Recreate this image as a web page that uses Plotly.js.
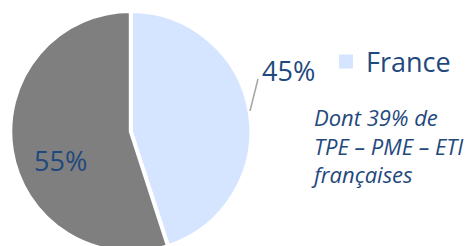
<!DOCTYPE html>
<html>
<head>
<meta charset="utf-8">
<script src="https://cdn.plot.ly/plotly-3.0.1.min.js"></script>
<style>
html,body{margin:0;padding:0;overflow:hidden;background:#fff;width:472px;height:246px;}
#chart{width:472px;height:252px;}
</style>
</head>
<body>
<div id="chart"></div>
<script>
// Data
const sliceLabels = ['France', 'Autres'];
const sliceValues = [45, 55];
const sliceColors = ['#D5E5FF', '#7F7F7F'];
const legendName = 'France';
const noteLines = ['Dont 39% de', 'TPE – PME – ETI', 'françaises'];

const W = 472, H = 252;
const px = x => x / W;
const py = y => 1 - y / H;
const textBlue = '#1F497D';
const fontFam = '"Open Sans", "Noto Sans", sans-serif';

const pie = {
  type: 'pie',
  labels: sliceLabels,
  values: sliceValues,
  sort: false,
  direction: 'clockwise',
  rotation: 0,
  showlegend: false,
  marker: {colors: sliceColors, line: {color: '#ffffff', width: 4}},
  textinfo: 'none',
  hoverinfo: 'label+percent',
  domain: {x: [px(10.3), px(251.3)], y: [0, py(11)]}
};

const legendTrace = {
  type: 'scatter',
  mode: 'markers',
  x: [null], y: [null],
  name: legendName,
  marker: {symbol: 'square', size: 14, color: sliceColors[0]},
  showlegend: true,
  hoverinfo: 'skip'
};

const layout = {
  width: W, height: H,
  margin: {l: 0, r: 0, t: 0, b: 0},
  paper_bgcolor: '#ffffff',
  plot_bgcolor: '#ffffff',
  xaxis: {visible: false},
  yaxis: {visible: false},
  showlegend: true,
  legend: {
    x: px(326), y: py(62), xanchor: 'left', yanchor: 'middle',
    font: {family: fontFam, size: 27, color: textBlue},
    bgcolor: 'rgba(0,0,0,0)', borderwidth: 0
  },
  shapes: [{
    type: 'line', xref: 'paper', yref: 'paper',
    x0: px(250), y0: py(111), x1: px(258), y1: py(79),
    line: {color: '#A6A6A6', width: 1.5}
  }],
  annotations: [
    {
      xref: 'paper', yref: 'paper',
      x: px(288), y: py(70), xanchor: 'center', yanchor: 'middle',
      text: sliceValues[0] + '%', showarrow: false,
      font: {family: fontFam, size: 27, color: textBlue}
    },
    {
      xref: 'paper', yref: 'paper',
      x: px(60), y: py(160), xanchor: 'center', yanchor: 'middle',
      text: sliceValues[1] + '%', showarrow: false,
      font: {family: fontFam, size: 27, color: textBlue}
    },
    {
      xref: 'paper', yref: 'paper',
      x: px(309), y: py(145), xanchor: 'left', yanchor: 'middle',
      align: 'left',
      text: noteLines.map(s => '<i>' + s + '</i>').join('<br>'),
      showarrow: false,
      font: {family: fontFam, size: 22, color: textBlue}
    }
  ]
};

Plotly.newPlot('chart', [pie, legendTrace], layout, {displayModeBar: false, staticPlot: true});
</script>
</body>
</html>
